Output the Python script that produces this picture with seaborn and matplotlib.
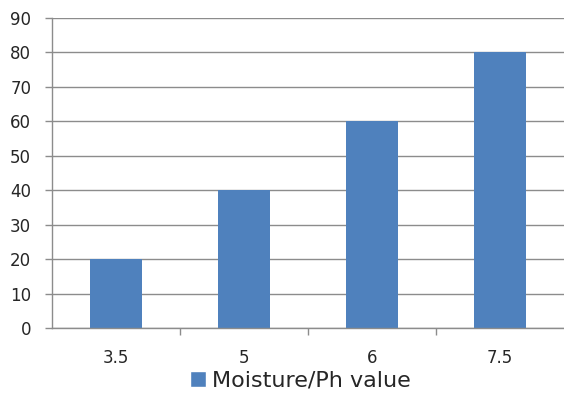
import matplotlib
matplotlib.use("Agg")
import matplotlib.pyplot as plt
import seaborn as sns
import pandas as pd
from matplotlib.patches import Patch

sns.set_style("white")
plt.rcParams["font.family"] = ["DejaVu Sans"]

# datos del grafico
categorias = ["3.5", "5", "6", "7.5"]
valores = [20, 40, 60, 80]
serie = "Moisture/Ph value"

df = pd.DataFrame({"ph": categorias, "valor": valores})

color_barra = "#4F81BD"
gris = "#8C8C8C"
texto = "#262626"

fig = plt.figure(figsize=(5.64, 3.94), dpi=100)
ax = fig.add_axes([52 / 564, 66 / 394, 512 / 564, 310 / 394])

sns.barplot(data=df, x="ph", y="valor", color=color_barra, width=0.4,
            saturation=1, linewidth=0, ax=ax)

ax.set_ylim(0, 90)
ax.set_xlim(-0.5, 3.5)
ax.set_yticks(range(0, 91, 10))
ax.grid(axis="y", color=gris, linewidth=1)
ax.set_axisbelow(True)
ax.set_xlabel("")
ax.set_ylabel("")

for lado in ["top", "right"]:
    ax.spines[lado].set_visible(False)
for lado in ["left", "bottom"]:
    ax.spines[lado].set_color(gris)
    ax.spines[lado].set_linewidth(1)

# marcas del eje y hacia fuera
ax.tick_params(axis="y", length=5, width=1, color=gris, pad=10,
               labelsize=12, labelcolor=texto, left=True)
# marcas del eje x entre categorias
ax.set_xticks([0.5, 1.5, 2.5], minor=True)
ax.tick_params(axis="x", which="minor", length=5, width=1, color=gris,
               bottom=True)
ax.tick_params(axis="x", which="major", length=0, pad=15, labelsize=12,
               labelcolor=texto)

# leyenda abajo
fig.legend(handles=[Patch(facecolor=color_barra, label=serie)],
           loc="center", bbox_to_anchor=(300 / 564, 1 - 381 / 394),
           frameon=False, fontsize=16, handlelength=0.75, handleheight=0.75,
           handletextpad=0.25, labelcolor=texto)

fig.savefig("out.png", dpi=100)
